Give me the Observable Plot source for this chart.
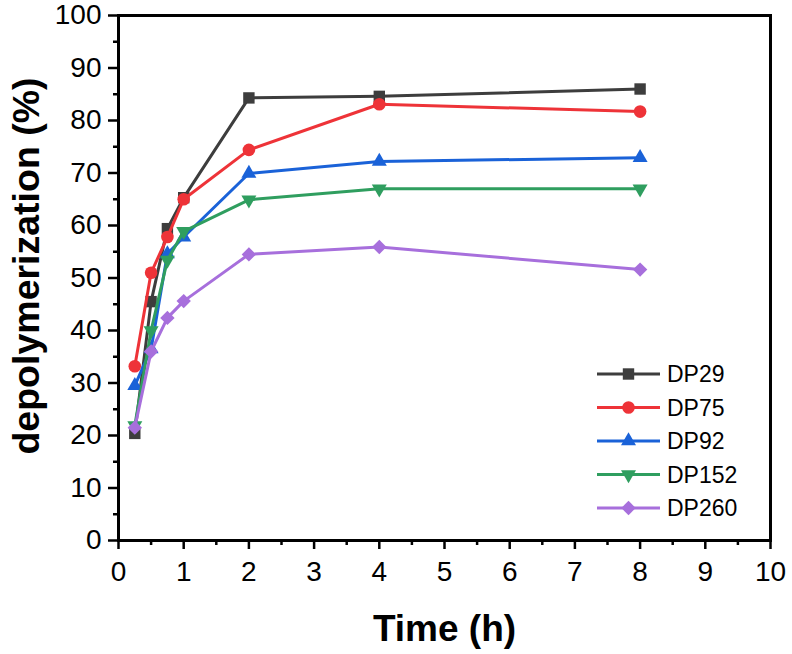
<!DOCTYPE html>
<html>
<head>
<meta charset="utf-8">
<script src="https://cdn.jsdelivr.net/npm/d3@7"></script>
<script src="https://cdn.jsdelivr.net/npm/@observablehq/plot@0.6"></script>
<style>
  html, body { margin: 0; padding: 0; background: #fff; }
  #chart { width: 792px; height: 654px; }
</style>
</head>
<body>
<div id="chart"></div>
<script>
// ---- data ----
const times  = [0.25, 0.5, 0.75, 1, 2, 4, 8];
const seriesNames = ["DP29", "DP75", "DP92", "DP152", "DP260"];
const dp29   = [20.4, 45.5, 59.4, 65.3, 84.3, 84.6, 86.0];
const dp75   = [33.2, 51.0, 57.8, 65.0, 74.4, 83.1, 81.7];
const dp92   = [29.5, 36.5, 54.6, 57.8, 69.9, 72.2, 72.9];
const dp152  = [21.9, 40.0, 53.4, 58.9, 64.9, 67.0, 67.0];
const dp260  = [21.5, 36.0, 42.4, 45.6, 54.5, 55.9, 51.6];
const xTicks = [0, 1, 2, 3, 4, 5, 6, 7, 8, 9, 10];
const yTicks = [0, 10, 20, 30, 40, 50, 60, 70, 80, 90, 100];
const xLabel = "Time (h)";
const yLabel = "depolymerization (%)";

const seriesValues = [dp29, dp75, dp92, dp152, dp260];
const colors = ["#3d3d3d", "#ee3338", "#1a62d8", "#2f9e5f", "#a76fdc"];

// custom marker shapes (size-based, like d3 symbols)
const sq = {draw(c, s){ const r = Math.sqrt(s/Math.PI)*0.95; c.rect(-r, -r, 2*r, 2*r); }};
const ci = {draw(c, s){ const r = Math.sqrt(s/Math.PI)*1.05; c.moveTo(r,0); c.arc(0,0,r,0,2*Math.PI); }};
const tu = {draw(c, s){ const w = Math.sqrt(s/Math.PI)*1.25, h = w*1.732;
  c.moveTo(0, -2*h/3); c.lineTo(w, h/3); c.lineTo(-w, h/3); c.closePath(); }};
const td = {draw(c, s){ const w = Math.sqrt(s/Math.PI)*1.25, h = w*1.732;
  c.moveTo(0, 2*h/3); c.lineTo(w, -h/3); c.lineTo(-w, -h/3); c.closePath(); }};
const di = {draw(c, s){ const r = Math.sqrt(s/Math.PI)*1.2;
  c.moveTo(0,-r); c.lineTo(r,0); c.lineTo(0,r); c.lineTo(-r,0); c.closePath(); }};
const symbols = [sq, ci, tu, td, di];

const data = seriesNames.flatMap((name, i) =>
  times.map((t, j) => ({series: name, time: t, value: seriesValues[i][j]})));

const font = "'Liberation Sans', Arial, sans-serif";

const seriesMarks = seriesNames.flatMap(name => {
  const d = data.filter(r => r.series === name);
  return [
    Plot.line(d, {x: "time", y: "value", stroke: "series", strokeWidth: 3}),
    Plot.dot(d, {x: "time", y: "value", symbol: "series", fill: "series", r: 6, stroke: "none"})
  ];
});

const chart = Plot.plot({
  width: 792,
  height: 654,
  marginLeft: 118,
  marginRight: 22,
  marginTop: 15,
  marginBottom: 114,
  style: {fontFamily: font, background: "#fff", color: "#000"},
  x: {domain: [0, 10]},
  y: {domain: [0, 100]},
  color: {domain: seriesNames, range: colors},
  symbol: {domain: seriesNames, range: symbols},
  marks: [
    Plot.axisX({ticks: xTicks, tickSize: 9, tickPadding: 12, fontSize: 28, label: null, strokeWidth: 2.5}),
    Plot.axisX({ticks: d3.range(0.5, 10, 1), tickSize: 5, tickFormat: () => "", label: null, strokeWidth: 2.5}),
    Plot.axisY({ticks: yTicks, tickSize: 10, tickPadding: 7, fontSize: 28, label: null, strokeWidth: 2.5}),
    Plot.axisY({ticks: d3.range(5, 100, 10), tickSize: 5, tickFormat: () => "", label: null, strokeWidth: 2.5}),
    Plot.frame({strokeWidth: 3, stroke: "#000"}),
    ...seriesMarks,
    Plot.text([xLabel], {frameAnchor: "bottom", dy: 89, lineAnchor: "middle", textAnchor: "middle",
      fontSize: 37, fontWeight: "bold", text: d => d}),
    Plot.text([yLabel], {frameAnchor: "left", dx: -92, dy: -12, rotate: -90, lineAnchor: "middle", textAnchor: "middle",
      fontSize: 37.5, fontWeight: "bold", text: d => d})
  ]
});

document.getElementById("chart").appendChild(chart);

// ---- legend inside plot (bottom right) ----
const svg = d3.select(chart);
const lg = svg.append("g").attr("transform", "translate(597,374)");
seriesNames.forEach((name, i) => {
  const g = lg.append("g").attr("transform", `translate(0,${i * 33.5})`);
  g.append("line").attr("x1", 0).attr("x2", 63).attr("y1", 0).attr("y2", 0)
    .attr("stroke", colors[i]).attr("stroke-width", 3);
  g.append("path").attr("transform", "translate(31.5,0)")
    .attr("d", d3.symbol(symbols[i], Math.PI * 36)())
    .attr("fill", colors[i]);
  g.append("text").attr("x", 70).attr("y", 0).attr("dy", "0.36em")
    .attr("text-anchor", "start")
    .attr("font-size", 23).attr("font-family", font).attr("fill", "#000").text(name);
});
</script>
</body>
</html>
